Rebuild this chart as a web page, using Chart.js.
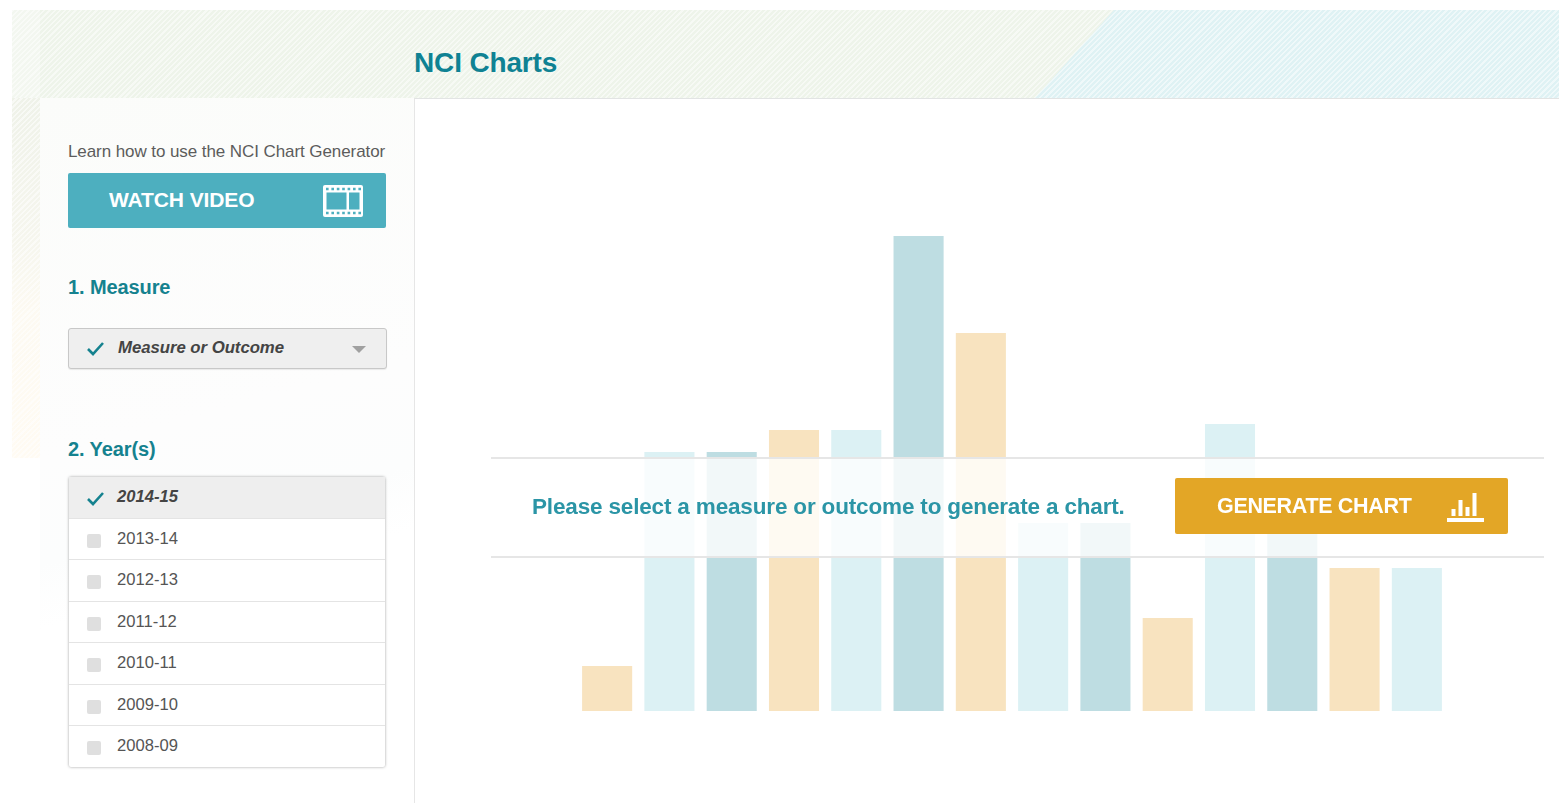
<!DOCTYPE html>
<html>
<head>
<meta charset="utf-8">
<title>NCI Charts</title>
<script src="https://cdn.jsdelivr.net/npm/chart.js@4"></script>
<style>
  html, body { margin: 0; padding: 0; background: #fff; }
  body { width: 1559px; height: 803px; overflow: hidden; position: relative; font-family: "Liberation Sans", Arial, sans-serif; filter: blur(.35px); }
  .abs { position: absolute; }
  /* hatched page background */
  #hatchLeft { left: 12px; top: 10px; width: 1547px; height: 88px;
    background:
      repeating-linear-gradient(-45deg, rgba(255,255,255,.5) 0 1.6px, rgba(255,255,255,0) 1.6px 3.7px),
      #eef4ea; }
  #hatchTeal { left: 12px; top: 10px; width: 1547px; height: 88px; clip-path: polygon(1102px 0, 100% 0, 100% 100%, 1023px 100%);
    background:
      repeating-linear-gradient(-45deg, rgba(255,255,255,.5) 0 1.6px, rgba(255,255,255,0) 1.6px 3.7px),
      #dff2f4; }
  #hatchEdge { left: 12px; top: 10px; width: 28px; height: 88px; background: rgba(255,255,255,.3); }
  #hatchSide { left: 12px; top: 98px; width: 28px; height: 360px;
    background:
      repeating-linear-gradient(-45deg, rgba(255,255,255,.55) 0 1.6px, rgba(255,255,255,0) 1.6px 3.7px),
      linear-gradient(180deg, #eff2e9 0, #f6f6ee 40%, #fdfaf2 60%, #fffbf3 100%); }
  #sidebar { left: 40px; top: 98px; width: 374px; height: 705px;
    background: linear-gradient(165deg, #fbfcfa 0, #fdfdfd 45%, #fcfdfd 58%, #fff 66%); }
  #mainPane { left: 414px; top: 98px; width: 1145px; height: 705px; background: #fff;
    border-left: 1px solid #e6e6e6; border-top: 1px solid #e2e4e4; box-sizing: border-box; }
  #chartBox { left: 576px; top: 200px; width: 872px; height: 511px; }
  #title { left: 414px; top: 47px; font-size: 28px; font-weight: bold; color: #0f8293; letter-spacing: -.15px; line-height: 32px; }
  #learn { left: 68px; top: 143px; font-size: 17px; color: #5c5c5c; line-height: 18px; letter-spacing: -.08px; }
  #watch { left: 68px; top: 173px; width: 318px; height: 55px; background: #4dafbf; border-radius: 2px; color: #fff;
    font-size: 21px; font-weight: bold; line-height: 54px; }
  #watch span { position: absolute; left: 41px; letter-spacing: -.1px; }
  #watch svg { position: absolute; left: 255px; top: 12px; }
  .head { left: 68px; font-size: 20px; font-weight: bold; color: #15828f; line-height: 24px; letter-spacing: -.1px; }
  #measure { left: 68px; top: 328px; width: 319px; height: 41px; box-sizing: border-box; background: #efefef;
    border: 1px solid #c8c8c8; border-radius: 3px; box-shadow: 0 1px 1px rgba(0,0,0,.08); }
  #measure i { position: absolute; left: 49px; top: 9px; font-size: 16.8px; font-weight: bold; color: #444; line-height: 20px; letter-spacing: -.05px; }
  #measure svg.tick { position: absolute; left: 17px; top: 12px; }
  #measure b { position: absolute; left: 283px; top: 17px; width: 0; height: 0; border-left: 7px solid transparent; border-right: 7px solid transparent; border-top: 7px solid #a0a0a0; }
  #years { left: 69px; top: 477px; width: 316px; height: 290px; background: #fff; box-shadow: 0 0 3px rgba(0,0,0,.38); border-radius: 2px; }
  #years div { position: relative; height: 41.5px; box-sizing: border-box; border-bottom: 1.5px solid #e4e4e4; font-size: 16.6px; color: #555; line-height: 40px; padding-left: 48px; }
  #years div:last-child { border-bottom: 0; height: 41px; }
  #years div.sel { background: #eeeeee; font-weight: bold; font-style: italic; color: #444; }
  #years div u { position: absolute; left: 18px; top: 15px; width: 14px; height: 14px; border-radius: 2px; background: #dfdfdf; }
  #years svg { position: absolute; left: 18px; top: 14px; }
  #band { left: 491px; top: 457px; width: 1053px; height: 101px; box-sizing: border-box; background: rgba(255,255,255,.8);
    border-top: 2px solid #e6e6e6; border-bottom: 2px solid #e6e6e6; }
  #prompt { left: 532px; top: 494px; font-size: 22.5px; font-weight: bold; color: #2b95a6; line-height: 26px; letter-spacing: -.16px; }
  #generate { left: 1175px; top: 478px; width: 333px; height: 56px; background: #e3a626; border-radius: 2px; color: #fff;
    font-size: 21.5px; font-weight: bold; line-height: 57px; }
  #generate span { position: absolute; left: 42px; letter-spacing: -.33px; }
  #generate svg { position: absolute; left: 271px; top: 14px; }
</style>
</head>
<body>
<div class="abs" id="hatchLeft"></div>
<div class="abs" id="hatchTeal"></div>
<div class="abs" id="hatchEdge"></div>
<div class="abs" id="hatchSide"></div>
<div class="abs" id="sidebar"></div>
<div class="abs" id="mainPane"></div>
<div class="abs" id="chartBox"><canvas id="placeholderChart"></canvas></div>

<div class="abs" id="title">NCI Charts</div>
<div class="abs" id="learn">Learn how to use the NCI Chart Generator</div>
<div class="abs" id="watch"><span>WATCH VIDEO</span>
  <svg width="40" height="32" viewBox="0 0 40 32"><rect x="0" y="0" width="40" height="32" rx="2" fill="#fff"/><rect x="3.5" y="7.5" width="20" height="17" fill="#4dafbf"/><rect x="26" y="7.5" width="10.5" height="17" fill="#4dafbf"/><path d="M3 4H38M3 28H38" stroke="#4dafbf" stroke-width="2.6" stroke-dasharray="2.6 2.8"/></svg>
</div>
<div class="abs head" style="top:275px">1. Measure</div>
<div class="abs" id="measure">
  <svg class="tick" width="20" height="16" viewBox="0 0 20 16"><path d="M2 8l5 5L17 2" fill="none" stroke="#15828f" stroke-width="2.6"/></svg>
  <i>Measure or Outcome</i><b></b>
</div>
<div class="abs head" style="top:437px">2. Year(s)</div>
<div class="abs" id="years"></div>

<div class="abs" id="band"></div>
<div class="abs" id="prompt">Please select a measure or outcome to generate a chart.</div>
<div class="abs" id="generate"><span>GENERATE CHART</span>
  <svg width="38" height="30" viewBox="0 0 38 30"><path d="M1 28H38" stroke="#fff" stroke-width="4"/><path d="M7.5 24V17M14.5 24V8M21.5 24V15M28.5 24V1" stroke="#fff" stroke-width="4"/></svg>
</div>

<script>
// bars behind the overlay, one tone per group
const categories = ['1', '2', '3', '4', '5', '6', '7', '8', '9', '10', '11', '12', '13', '14'];
const barValues = [45, 259, 259, 281, 281, 475, 378, 188, 188, 93, 287, 200, 143, 143];
const barTones = ['orange', 'light', 'dark', 'orange', 'light', 'dark', 'orange', 'light', 'dark', 'orange', 'light', 'dark', 'orange', 'light'];
const yearLabels = ['2014-15', '2013-14', '2012-13', '2011-12', '2010-11', '2009-10', '2008-09'];
const selectedYear = '2014-15';

const TONE_COLORS = { orange: '#f8e3bf', light: '#dcf1f4', dark: '#bedde2' };

const yearsEl = document.getElementById('years');
yearsEl.innerHTML = yearLabels
  .map((y) =>
    y === selectedYear
      ? `<div class="sel"><svg width="18" height="16" viewBox="0 0 18 16"><path d="M1 8l5 5L16 2" fill="none" stroke="#15828f" stroke-width="2.6"/></svg>${y}</div>`
      : `<div><u></u>${y}</div>`
  )
  .join('');

new Chart(document.getElementById('placeholderChart'), {
  type: 'bar',
  data: {
    labels: categories,
    datasets: [
      {
        data: barValues,
        backgroundColor: barTones.map((t) => TONE_COLORS[t]),
        barPercentage: 0.804,
        categoryPercentage: 1,
      },
    ],
  },
  options: {
    responsive: true,
    maintainAspectRatio: false,
    animation: false,
    layout: { padding: 0 },
    plugins: { legend: { display: false }, tooltip: { enabled: false } },
    scales: {
      x: { display: false },
      y: { display: false, min: 0, max: 511 },
    },
  },
});
</script>
</body>
</html>
